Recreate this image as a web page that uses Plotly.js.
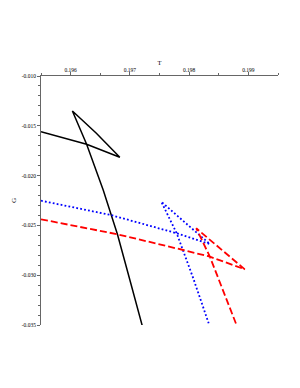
<!DOCTYPE html>
<html>
<head>
<meta charset="utf-8">
<script src="https://cdn.plot.ly/plotly-3.0.1.min.js"></script>
<style>html,body{margin:0;padding:0;background:#fff;}#chart{width:300px;height:388px;}</style>
</head>
<body>
<div id="chart"></div>
<script>
// Black (solid) swallowtail
const blackT = [0.1955, 0.19627, 0.19683, 0.19643, 0.19603, 0.19627, 0.19655, 0.19668, 0.19679, 0.19700, 0.19721];
const blackG = [-0.01559, -0.01686, -0.01816, -0.01572, -0.01351, -0.01686, -0.02145, -0.02396, -0.02589, -0.03048, -0.03510];
// Blue (dotted) swallowtail
const blueT = [0.1955, 0.19668, 0.19779, 0.19835, 0.19794, 0.19753, 0.19779, 0.19807, 0.19833];
const blueG = [-0.02252, -0.02396, -0.02579, -0.02687, -0.02476, -0.02262, -0.02579, -0.03031, -0.03483];
// Red (dashed) swallowtail
const redT = [0.1955, 0.19679, 0.19790, 0.19835, 0.19894, 0.19812, 0.19835, 0.19851, 0.19880];
const redG = [-0.02439, -0.02589, -0.02747, -0.02814, -0.02941, -0.02529, -0.02814, -0.03053, -0.03500];

const xTicks = [0.196, 0.197, 0.198, 0.199];
const xTickLabels = ["0.196", "0.197", "0.198", "0.199"];
const yTicks = [-0.010, -0.015, -0.020, -0.025, -0.030, -0.035];
const yTickLabels = ["-0.010", "-0.015", "-0.020", "-0.025", "-0.030", "-0.035"];

const traces = [
  {x: blackT, y: blackG, mode: 'lines', line: {color: '#000000', width: 1.5}, hoverinfo: 'skip'},
  {x: blueT, y: blueG, mode: 'lines', line: {color: '#0000ff', width: 1.8, dash: '1.8px,2.2px'}, hoverinfo: 'skip'},
  {x: redT, y: redG, mode: 'lines', line: {color: '#ff0000', width: 1.8, dash: '7px,3px'}, hoverinfo: 'skip'}
];

const axFont = {family: 'Liberation Serif, Times New Roman, serif', size: 5.5, color: '#000000'};
const layout = {
  width: 300, height: 388,
  margin: {l: 41, r: 22, t: 76, b: 63},
  paper_bgcolor: '#ffffff', plot_bgcolor: '#ffffff',
  font: {color: '#000000'},
  showlegend: false,
  xaxis: {
    range: [0.1955, 0.1995], side: 'top',
    tickvals: xTicks, ticktext: xTickLabels,
    ticks: 'outside', ticklen: 3, tickwidth: 1, tickcolor: '#666666',
    showline: true, linecolor: '#666666', linewidth: 1,
    showgrid: false, zeroline: false,
    tickfont: axFont, ticklabelstandoff: -2,
    minor: {dtick: 0.0005, tick0: 0.1955, ticks: 'outside', ticklen: 2, tickcolor: '#666666', showgrid: false},
    title: {text: 'T', font: {family: 'Liberation Serif, serif', size: 6.5, color: '#000000'}, standoff: 0},
    automargin: false
  },
  yaxis: {
    range: [-0.035, -0.010],
    tickvals: yTicks, ticktext: yTickLabels,
    ticks: 'outside', ticklen: 3, tickwidth: 1, tickcolor: '#666666',
    showline: true, linecolor: '#666666', linewidth: 1,
    showgrid: false, zeroline: false,
    tickfont: axFont,
    minor: {dtick: 0.001, tick0: -0.035, ticks: 'outside', ticklen: 2, tickcolor: '#666666', showgrid: false},
    title: {text: 'G', font: {family: 'Liberation Serif, serif', size: 7, color: '#000000'}, standoff: 4},
    automargin: false
  }
};

Plotly.newPlot('chart', traces, layout, {staticPlot: true, displayModeBar: false});
</script>
</body>
</html>
